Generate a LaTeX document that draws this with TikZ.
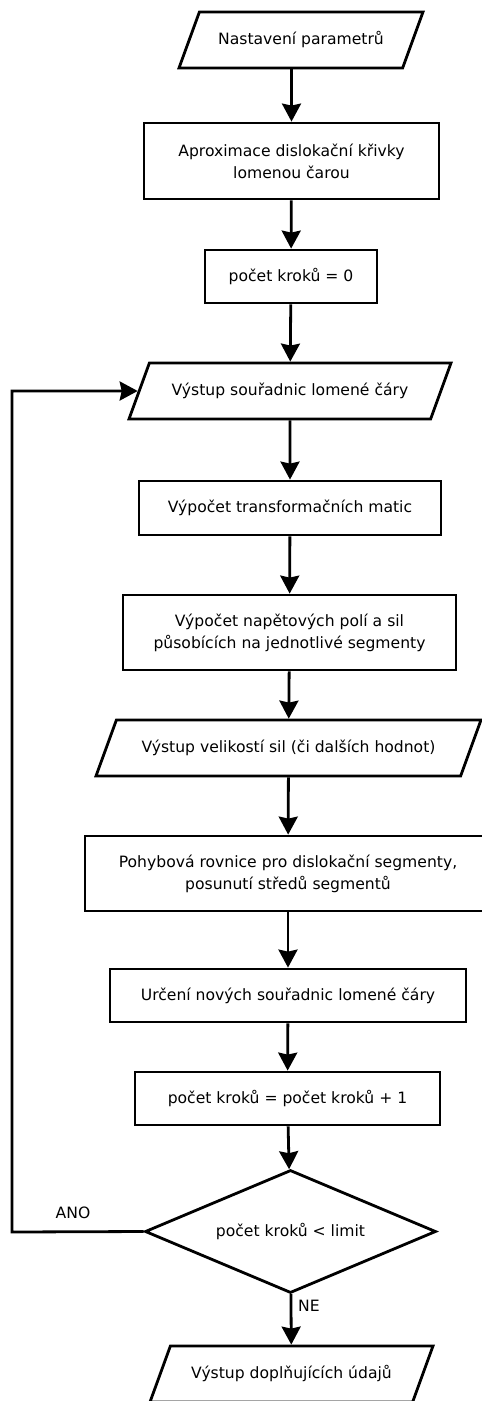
\documentclass[tikz,border=0pt]{standalone}
\usepackage{fontspec}
\setmainfont{DejaVu Sans}
\usepackage{tikz}
\usetikzlibrary{arrows.meta,shapes.geometric}

\begin{document}
\begin{tikzpicture}[
  x=1pt, y=-1pt,
  font=\fontsize{15.6}{22}\selectfont,
  box/.style={draw,line width=2.8pt,align=center,inner sep=0pt},
  io/.style={draw,line width=2.8pt,align=center,trapezium,inner xsep=0pt,inner ysep=20pt,
    text height=12pt,text depth=4pt,
    trapezium left angle=70,trapezium right angle=110,trapezium stretches body},
  cond/.style={draw,line width=2.8pt,align=center,inner sep=0pt,diamond,aspect=2.37},
  arr/.style={-{Stealth[length=18pt,width=19pt,inset=2pt]},line width=2.8pt}
]
  \useasboundingbox (0,0) rectangle (482,1401);
  \clip (0,0) rectangle (482,1401);

  \node[io, minimum width=244pt] (params) at (301,40) {Nastavení parametrů};
  \node[box, minimum width=295pt, minimum height=76pt] (approx) at (291.5,161) {Aproximace dislokační křivky\\lomenou čarou};
  \node[box, minimum width=172pt, minimum height=53pt] (init) at (291,276.5) {počet kroků = 0};
  \node[io, minimum width=322pt] (coords) at (290,391) {Výstup souřadnic lomené čáry};
  \node[box, minimum width=302pt, minimum height=54pt] (matrix) at (290,508) {Výpočet transformačních matic};
  \node[box, minimum width=333pt, minimum height=75pt] (fields) at (289.5,632.5) {Výpočet napětových polí a sil\\působících na jednotlivé segmenty};
  \node[io, minimum width=385pt] (forces) at (288.5,748) {Výstup velikostí sil (či dalších hodnot)};
  \node[box, minimum width=406pt, minimum height=75pt] (motion) at (288,873.5) {Pohybová rovnice pro dislokační segmenty,\\posunutí středů segmentů};
  \node[box, minimum width=356pt, minimum height=53pt] (newpos) at (288,995.5) {Určení nových souřadnic lomené čáry};
  \node[box, minimum width=305pt, minimum height=53pt] (incr) at (287.5,1098.5) {počet kroků = počet kroků + 1};
  \node[cond, minimum width=291pt, minimum height=123pt] (test) at (290.5,1231.5) {počet kroků < limit};
  \node[io, minimum width=283pt] (extra) at (291.5,1374) {Výstup doplňujících údajů};

  \coordinate (loop) at (12,1232);
  \node (yes) at (73,1213) {ANO};
  \node (no) at (309,1306) {NE};

  \draw[arr] (params.south -| approx.north) -- (approx);
  \draw[arr] (approx) -- (init);
  \draw[arr] (init) -- (coords);
  \draw[arr] (coords) -- (matrix);
  \draw[arr] (matrix) -- (fields);
  \draw[arr] (fields) -- (forces);
  \draw[arr] (forces) -- (motion);
  \draw[arr] (motion) -- (newpos);
  \draw[arr] (newpos) -- (incr);
  \draw[arr] (incr) -- (test);
  \draw[arr] (test) -- (extra);
  \draw[arr] (test.west) -- (loop) |- (coords.west);
\end{tikzpicture}
\end{document}
